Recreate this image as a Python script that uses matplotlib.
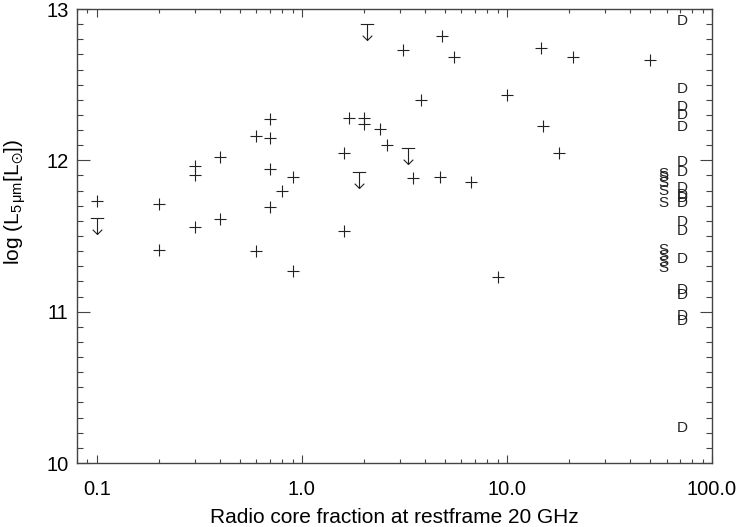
import matplotlib
matplotlib.use('Agg')
import matplotlib.pyplot as plt
from matplotlib.path import Path
from matplotlib.ticker import FixedLocator, FixedFormatter, LogLocator, MultipleLocator, NullFormatter

plt.rcParams['font.family'] = ['Liberation Sans', 'DejaVu Sans']
plt.rcParams['mathtext.fontset'] = 'custom'
plt.rcParams['mathtext.rm'] = 'Liberation Sans'
plt.rcParams['mathtext.it'] = 'Liberation Sans'
plt.rcParams['mathtext.fallback'] = 'stixsans'

# Datos: fuentes detectadas (cruces)
core_frac = [0.1, 0.2, 0.2, 0.3, 0.3, 0.3, 0.4, 0.4, 0.6, 0.6, 0.7, 0.7, 0.7, 0.7,
             0.8, 0.9, 0.9, 1.6, 1.6, 1.7, 2.0, 2.0, 2.4, 2.6, 3.1, 3.5, 3.8, 4.7,
             4.8, 5.5, 6.7, 9.0, 10.0, 14.6, 15.0, 18.0, 21.0, 50.0]
log_l5 = [11.73, 11.71, 11.41, 11.96, 11.90, 11.56, 12.02, 11.61, 12.16, 11.40,
          12.27, 12.15, 11.94, 11.69, 11.80, 11.89, 11.27, 12.05, 11.53, 12.28,
          12.28, 12.24, 12.21, 12.10, 12.73, 11.88, 12.40, 11.89, 12.82, 12.68,
          11.86, 11.23, 12.43, 12.74, 12.23, 12.05, 12.68, 12.66]

# Limites superiores
lim_frac = [0.1, 1.9, 2.08, 3.3]
lim_l5 = [11.62, 11.92, 12.90, 12.08]

# Fuentes sin fraccion de nucleo: D (dobles) y S
d_frac = 72.0
d_l5 = [12.92, 12.47, 12.35, 12.30, 12.22, 11.99, 11.92, 11.82, 11.77, 11.75,
        11.72, 11.59, 11.53, 11.35, 11.14, 11.11, 10.97, 10.94, 10.23]
s_frac = 58.0
s_l5 = [11.91, 11.89, 11.85, 11.80, 11.72, 11.41, 11.37, 11.33, 11.29]

xtick_vals = [0.1, 1.0, 10.0, 100.0]
xtick_labels = ['0.1', '1.0', '10.0', '100.0']
ytick_vals = [10, 11, 12, 13]

ink = '#222222'

fig = plt.figure(figsize=(7.4, 5.27), dpi=100)
ax = fig.add_axes([77 / 740, 1 - 463 / 527, 635 / 740, 454 / 527])

ax.plot(core_frac, log_l5, linestyle='none', marker='+', markersize=9,
        markeredgewidth=0.8, color=ink)

# Marcador de limite superior: barra y flecha hacia abajo
lim_path = Path([(-0.42, 0), (0.42, 0), (0, 0), (0, -1),
                 (-0.3, -0.7), (0, -1), (0.3, -0.7)],
                [Path.MOVETO, Path.LINETO, Path.MOVETO, Path.LINETO,
                 Path.MOVETO, Path.LINETO, Path.LINETO])
ax.plot(lim_frac, lim_l5, linestyle='none', marker=lim_path, markersize=23,
        markeredgewidth=0.8, markerfacecolor='none', color=ink)

# Las letras se superponen igual que en la figura original
for yv in d_l5:
    ax.text(d_frac, yv, 'D', fontsize=11, color=ink, ha='center', va='center')
for yv in s_l5:
    ax.text(s_frac, yv, 'S', fontsize=11, color=ink, ha='center', va='center')

ax.set_xscale('log')
ax.set_xlim(0.08, 100)
ax.set_ylim(10, 13)

ax.xaxis.set_major_locator(FixedLocator(xtick_vals))
ax.xaxis.set_major_formatter(FixedFormatter(xtick_labels))
ax.xaxis.set_minor_locator(LogLocator(base=10, subs=range(2, 10)))
ax.xaxis.set_minor_formatter(NullFormatter())
ax.yaxis.set_major_locator(FixedLocator(ytick_vals))
ax.yaxis.set_minor_locator(MultipleLocator(0.1))

ax.tick_params(which='both', direction='in', top=True, right=True,
               color='#444444', width=0.8, labelsize=14.5, labelcolor='black')
ax.tick_params(axis='x', which='major', length=6, pad=12)
ax.tick_params(axis='x', which='minor', length=3)
ax.tick_params(axis='y', which='major', length=9, pad=6)
ax.tick_params(axis='y', which='minor', length=4.3)

for s in ax.spines.values():
    s.set_color('#444444')
    s.set_linewidth(1.0)

ax.set_xlabel('Radio core fraction at restframe 20 GHz', fontsize=15, labelpad=7)
ax.set_ylabel(r'log (L$_{5\,\mathrm{\mu m}}$[L$_{\odot}$])', fontsize=15)
ax.yaxis.set_label_coords(-0.077, 0.575)

fig.savefig('out.png', dpi=100)
